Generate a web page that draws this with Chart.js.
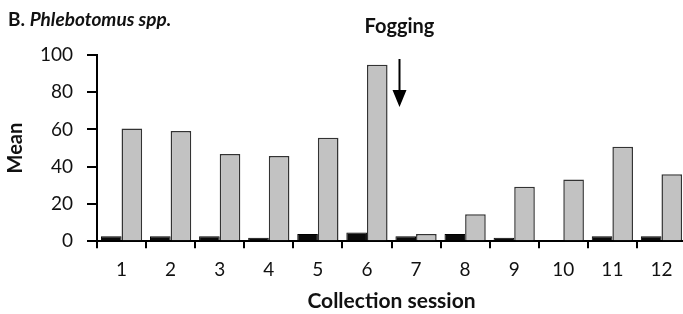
<!DOCTYPE html>
<html>
<head>
<meta charset="utf-8">
<script src="https://cdn.jsdelivr.net/npm/chart.js@4/dist/chart.umd.min.js"></script>
<style>
  body { margin: 0; background: #fff; overflow: hidden; }
  #wrap { width: 686px; height: 314px; position: relative; }
</style>
</head>
<body>
<div id="wrap"><canvas id="myChart"></canvas></div>
<script>
const sessions = ['1', '2', '3', '4', '5', '6', '7', '8', '9', '10', '11', '12'];
const blackSeries = [2.7, 2.7, 2.7, 1.8, 3.8, 4.7, 2.7, 3.8, 1.8, 0.5, 2.7, 2.7];
const graySeries = [60.5, 59.2, 46.8, 45.7, 55.5, 94.8, 3.8, 14.5, 29.2, 33.2, 50.7, 36];
const yTicks = [0, 20, 40, 60, 80, 100];

const fontName = 'Lato, "Open Sans", sans-serif';

// title, "Fogging" label and the arrow
const extras = {
  id: 'extras',
  afterDraw(chart) {
    const c = chart.ctx;
    const x = chart.scales.x;
    c.save();
    c.fillStyle = '#111';
    c.textBaseline = 'middle';
    c.textAlign = 'left';
    c.font = 'bold 19px ' + fontName;
    c.fillText('B.', 8, 20);
    const w = c.measureText('B. ').width;
    c.font = 'italic bold 19px ' + fontName;
    c.fillText('Phlebotomus spp.', 8 + w, 20);

    // arrow between session 6 and 7
    const ax = (x.getPixelForValue(5) + x.getPixelForValue(6)) / 2 + 8;
    c.textAlign = 'center';
    c.font = 'bold 20px ' + fontName;
    c.fillText('Fogging', ax, 27);
    c.strokeStyle = '#000';
    c.lineWidth = 2;
    c.beginPath();
    c.moveTo(ax, 59);
    c.lineTo(ax, 98);
    c.stroke();
    c.beginPath();
    c.moveTo(ax - 7, 90);
    c.lineTo(ax, 107);
    c.lineTo(ax + 7, 90);
    c.closePath();
    c.fillStyle = '#000';
    c.fill();
    c.restore();
  }
};

new Chart(document.getElementById('myChart'), {
  type: 'bar',
  data: {
    labels: sessions,
    datasets: [{
      label: 'Series A',
      data: blackSeries,
      backgroundColor: '#0a0a0a',
      borderColor: '#000',
      borderWidth: 1
    }, {
      label: 'Series B',
      data: graySeries,
      backgroundColor: '#c2c2c2',
      borderColor: '#333',
      borderWidth: 1.5
    }]
  },
  options: {
    responsive: true,
    maintainAspectRatio: false,
    animation: false,
    datasets: {
      bar: { barPercentage: 1, categoryPercentage: 0.84 }
    },
    layout: { padding: { top: 55, left: 4, right: 0, bottom: 2 } },
    plugins: {
      legend: { display: false },
      tooltip: { enabled: false }
    },
    scales: {
      x: {
        grid: { display: true, drawOnChartArea: false, drawTicks: true, tickLength: 7, color: '#000', lineWidth: 2, offset: true },
        border: { display: true, color: '#000', width: 2 },
        ticks: { color: '#111', font: { family: fontName, size: 19 }, padding: 10, maxRotation: 0 },
        title: { display: true, text: 'Collection session', color: '#111', font: { family: fontName, size: 21, weight: 'bold', lineHeight: 1 }, padding: { top: 0, bottom: 0 } }
      },
      y: {
        min: 0,
        max: 100,
        afterBuildTicks(s) { s.ticks = yTicks.map(v => ({ value: v })); },
        afterFit(s) { s.width = 93; },
        grid: { display: true, drawOnChartArea: false, drawTicks: true, tickLength: 10, color: '#000', lineWidth: 2 },
        border: { display: true, color: '#000', width: 2 },
        ticks: { color: '#111', font: { family: fontName, size: 19 }, padding: 14 },
        title: { display: true, text: 'Mean', color: '#111', font: { family: fontName, size: 20, weight: 'bold' }, padding: { top: 0, bottom: 0 } }
      }
    }
  },
  plugins: [extras]
});
</script>
</body>
</html>
